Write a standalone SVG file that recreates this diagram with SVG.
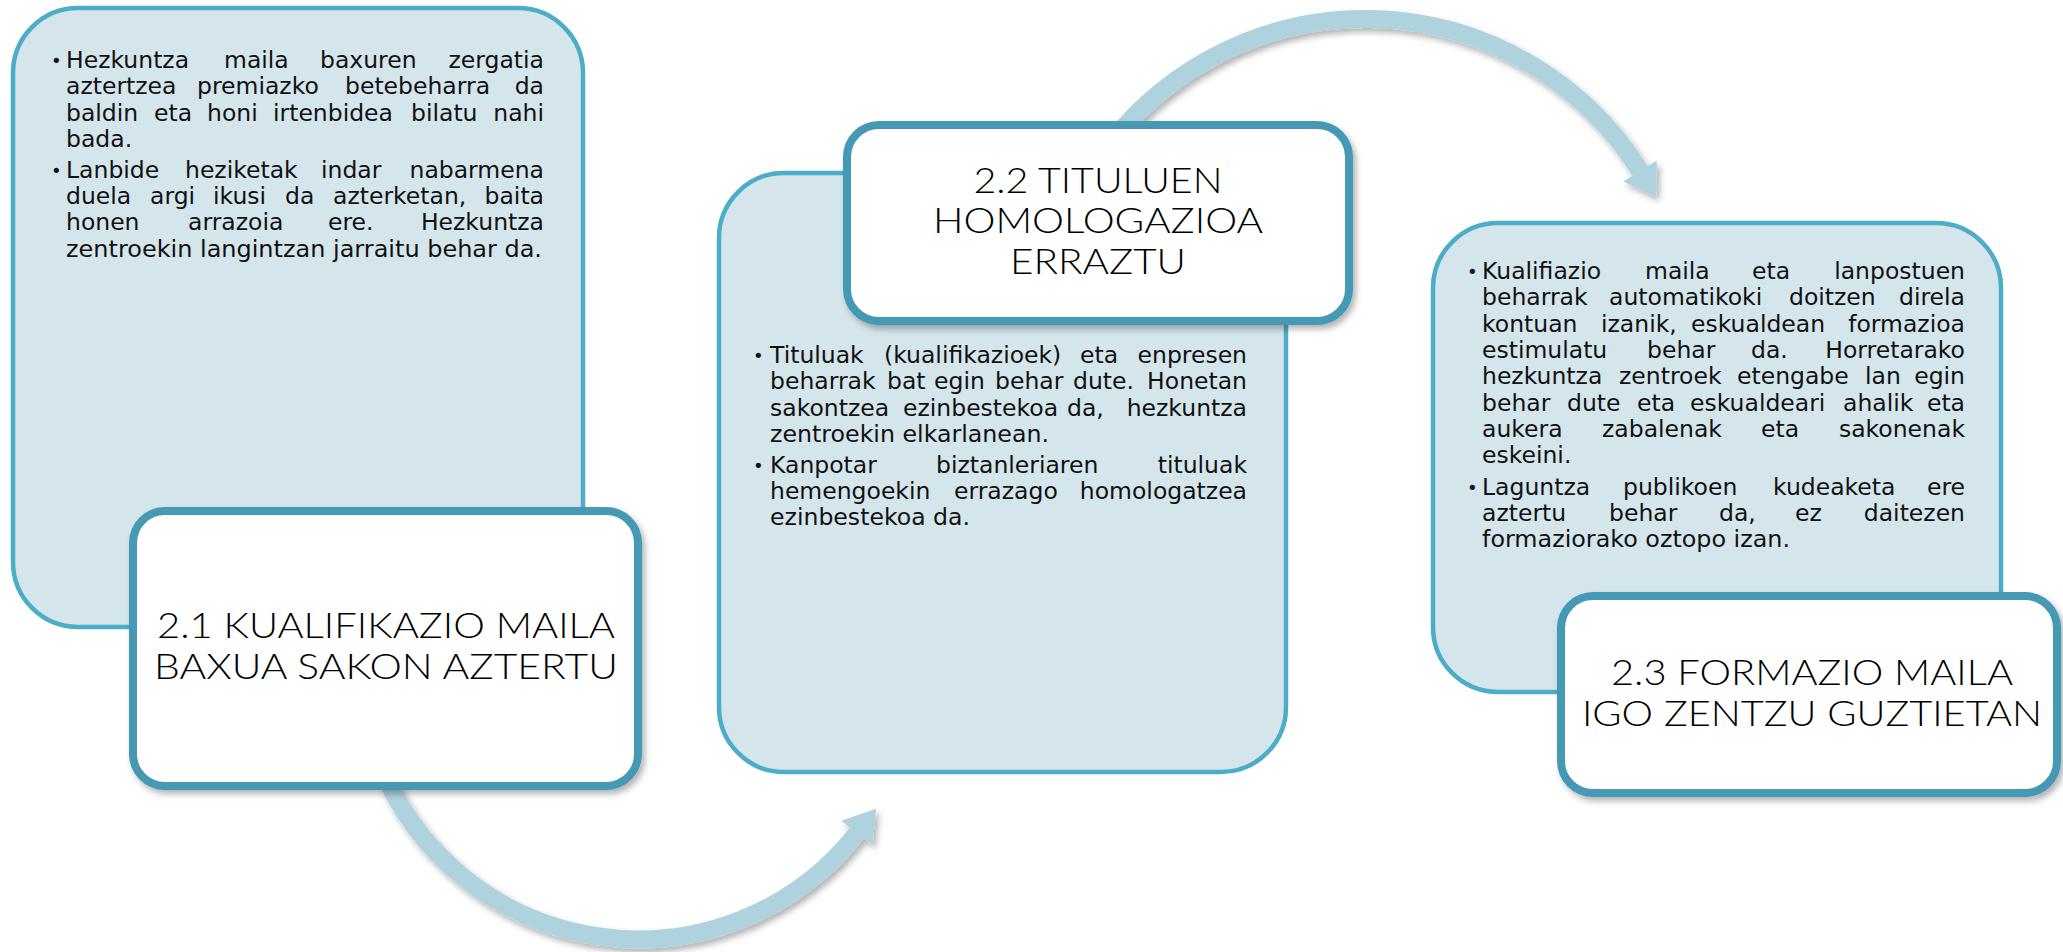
<svg xmlns="http://www.w3.org/2000/svg" width="2063" height="952" viewBox="0 0 2063 952">
<defs>
<style>
.lb{fill:#D4E5EC;stroke:#4DADC7;stroke-width:4.5}
.wb{fill:#FFFFFF;stroke:#4499B4;stroke-width:8}
.arc{fill:none;stroke:#AED2DE;stroke-width:18}
.body{font-family:"DejaVu Sans","Liberation Sans",sans-serif;font-size:23.5px;fill:#111}
.bul{font-size:18px}
.title{font-family:Lato,"DejaVu Sans",sans-serif;font-weight:300;font-size:36px;fill:#000;text-anchor:middle}
.e{text-anchor:end}
</style>
<filter id="sh" x="-10%" y="-10%" width="130%" height="130%">
<feDropShadow dx="3" dy="4" stdDeviation="3" flood-color="#000" flood-opacity="0.3"/>
</filter>
<marker id="ah" markerUnits="userSpaceOnUse" markerWidth="40" markerHeight="44" viewBox="0 -20 30 40" refX="0" refY="0" orient="auto">
<path d="M0,-18 L28,0 L0,18 Z" fill="#AED2DE"/>
</marker>
</defs>
<rect width="2063" height="952" fill="#FFFFFF"/>

<g id="box1-detail">
<rect class="lb" x="13" y="8" width="570" height="619" rx="65"/>
<g class="body">
<text class="bul" x="51" y="67">•</text>
<text y="68"><tspan x="66">Hezkuntza</tspan><tspan x="224">maila</tspan><tspan x="320">baxuren</tspan><tspan class="e" x="544">zergatia</tspan></text>
<text y="94"><tspan x="66">aztertzea</tspan><tspan x="197">premiazko</tspan><tspan x="345">betebeharra</tspan><tspan class="e" x="544">da</tspan></text>
<text y="121"><tspan x="66">baldin</tspan><tspan x="154">eta</tspan><tspan x="207">honi</tspan><tspan x="273">irtenbidea</tspan><tspan x="411">bilatu</tspan><tspan class="e" x="544">nahi</tspan></text>
<text x="66" y="147">bada.</text>
<text class="bul" x="51" y="177">•</text>
<text y="178"><tspan x="66">Lanbide</tspan><tspan x="185">heziketak</tspan><tspan x="321">indar</tspan><tspan class="e" x="544">nabarmena</tspan></text>
<text y="204"><tspan x="66">duela</tspan><tspan x="150">argi</tspan><tspan x="213">ikusi</tspan><tspan x="285">da</tspan><tspan x="333">azterketan,</tspan><tspan class="e" x="544">baita</tspan></text>
<text y="230"><tspan x="66">honen</tspan><tspan x="188">arrazoia</tspan><tspan x="328">ere.</tspan><tspan class="e" x="544">Hezkuntza</tspan></text>
<text x="66" y="257" textLength="476" lengthAdjust="spacingAndGlyphs">zentroekin langintzan jarraitu behar da.</text>
</g>
</g>

<g id="box2-detail">
<rect class="lb" x="719" y="173" width="567" height="599" rx="65"/>
<g class="body">
<text class="bul" x="753" y="362">•</text>
<text y="363"><tspan x="770">Tituluak</tspan><tspan x="884">(kualifikazioek)</tspan><tspan x="1080">eta</tspan><tspan class="e" x="1247">enpresen</tspan></text>
<text y="389"><tspan x="770">beharrak</tspan><tspan x="887">bat</tspan><tspan x="934">egin</tspan><tspan x="995">behar</tspan><tspan x="1073">dute.</tspan><tspan class="e" x="1247">Honetan</tspan></text>
<text y="416"><tspan x="770">sakontzea</tspan><tspan x="903">ezinbestekoa</tspan><tspan x="1067">da,</tspan><tspan class="e" x="1247">hezkuntza</tspan></text>
<text x="770" y="442" textLength="279" lengthAdjust="spacingAndGlyphs">zentroekin elkarlanean.</text>
<text class="bul" x="753" y="472">•</text>
<text y="473"><tspan x="770">Kanpotar</tspan><tspan x="936">biztanleriaren</tspan><tspan class="e" x="1247">tituluak</tspan></text>
<text y="499"><tspan x="770">hemengoekin</tspan><tspan x="954">errazago</tspan><tspan class="e" x="1247">homologatzea</tspan></text>
<text x="770" y="525" textLength="200" lengthAdjust="spacingAndGlyphs">ezinbestekoa da.</text>
</g>
</g>

<g id="box3-detail">
<rect class="lb" x="1433" y="223" width="568" height="469" rx="65"/>
<g class="body">
<text class="bul" x="1467" y="278">•</text>
<text y="279"><tspan x="1482">Kualifiazio</tspan><tspan x="1645">maila</tspan><tspan x="1752">eta</tspan><tspan class="e" x="1965">lanpostuen</tspan></text>
<text y="305"><tspan x="1482">beharrak</tspan><tspan x="1609">automatikoki</tspan><tspan x="1789">doitzen</tspan><tspan class="e" x="1965">direla</tspan></text>
<text y="332"><tspan x="1482">kontuan</tspan><tspan x="1601">izanik,</tspan><tspan x="1691">eskualdean</tspan><tspan class="e" x="1965">formazioa</tspan></text>
<text y="358"><tspan x="1482">estimulatu</tspan><tspan x="1647">behar</tspan><tspan x="1751">da.</tspan><tspan class="e" x="1965">Horretarako</tspan></text>
<text y="384"><tspan x="1482">hezkuntza</tspan><tspan x="1619">zentroek</tspan><tspan x="1737">etengabe</tspan><tspan x="1865">lan</tspan><tspan class="e" x="1965">egin</tspan></text>
<text y="411"><tspan x="1482">behar</tspan><tspan x="1567">dute</tspan><tspan x="1637">eta</tspan><tspan x="1690">eskualdeari</tspan><tspan x="1843">ahalik</tspan><tspan class="e" x="1965">eta</tspan></text>
<text y="437"><tspan x="1482">aukera</tspan><tspan x="1602">zabalenak</tspan><tspan x="1761">eta</tspan><tspan class="e" x="1965">sakonenak</tspan></text>
<text x="1482" y="463">eskeini.</text>
<text class="bul" x="1467" y="494">•</text>
<text y="495"><tspan x="1482">Laguntza</tspan><tspan x="1623">publikoen</tspan><tspan x="1773">kudeaketa</tspan><tspan class="e" x="1965">ere</tspan></text>
<text y="521"><tspan x="1482">aztertu</tspan><tspan x="1609">behar</tspan><tspan x="1719">da,</tspan><tspan x="1795">ez</tspan><tspan class="e" x="1965">daitezen</tspan></text>
<text x="1482" y="547" textLength="308" lengthAdjust="spacingAndGlyphs">formaziorako oztopo izan.</text>
</g>
</g>

<g id="connectors" filter="url(#sh)">
<path class="arc" d="M378.5,760 A278,278 0 0 0 857,833" marker-end="url(#ah)"/>
<path class="arc" d="M1098,160 A324,324 0 0 1 1640,171" marker-end="url(#ah)"/>
</g>

<g id="node1">
<rect class="wb" x="133" y="511" width="505" height="275" rx="32" filter="url(#sh)"/>
<text class="title" x="386" y="638" textLength="458" lengthAdjust="spacingAndGlyphs">2.1 KUALIFIKAZIO MAILA</text>
<text class="title" x="386" y="679" textLength="464" lengthAdjust="spacingAndGlyphs">BAXUA SAKON AZTERTU</text>
</g>

<g id="node2">
<rect class="wb" x="847" y="125" width="502" height="196" rx="32" filter="url(#sh)"/>
<text class="title" x="1098" y="193" textLength="249" lengthAdjust="spacingAndGlyphs">2.2 TITULUEN</text>
<text class="title" x="1098" y="233" textLength="330" lengthAdjust="spacingAndGlyphs">HOMOLOGAZIOA</text>
<text class="title" x="1098" y="274" textLength="176" lengthAdjust="spacingAndGlyphs">ERRAZTU</text>
</g>

<g id="node3">
<rect class="wb" x="1561" y="596" width="496" height="197" rx="32" filter="url(#sh)"/>
<text class="title" x="1812" y="685" textLength="402" lengthAdjust="spacingAndGlyphs">2.3 FORMAZIO MAILA</text>
<text class="title" x="1812" y="726" textLength="460" lengthAdjust="spacingAndGlyphs">IGO ZENTZU GUZTIETAN</text>
</g>
</svg>
